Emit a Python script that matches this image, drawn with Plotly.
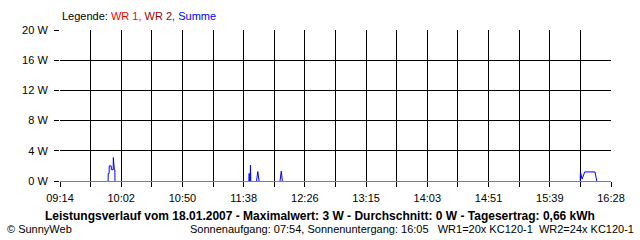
import plotly.graph_objects as go

# ---- data (minutes since midnight, watts) ----
x_start_label = "09:14"
x_end_label = "16:28"
x_tick_labels = ["09:14", "10:02", "10:50", "11:38", "12:26", "13:15",
                 "14:03", "14:51", "15:39", "16:28"]
y_ticks = [0, 4, 8, 12, 16, 20]

summe_t = [591.9, 592.0, 592.7, 592.8, 594.3, 594.5, 595.9, 596.0, 596.8, 597.2, 597.3, None,
           702.8, 703.0, 703.3, None,
           703.8, 704.0, 704.3, None,
           708.8, 709.8, 710.8, None,
           727.3, 728.3, 729.1, None,
           963.8, 963.9, 965.2, 967.3, 975.4, 976.8]
summe_w = [0, 1.0, 1.0, 2.0, 2.0, 1.5, 1.5, 3.1, 1.5, 1.5, 0, None,
           0, 1.0, 0, None,
           0, 2.1, 0, None,
           0, 1.25, 0, None,
           0, 1.3, 0, None,
           0, 1.2, 0.25, 1.2, 1.2, 0]


def to_min(s):
    h, m = s.split(":")
    return int(h) * 60 + int(m)


x0 = to_min(x_start_label)
x1 = to_min(x_end_label)
n_int = 2 * (len(x_tick_labels) - 1)
tickvals = [x0 + i * (x1 - x0) / n_int for i in range(n_int + 1)]
ticktext = []
for i in range(n_int + 1):
    ticktext.append(x_tick_labels[i // 2] if i % 2 == 0 else "")

FONT = "Liberation Sans, Arial, sans-serif"

fig = go.Figure()
fig.add_trace(go.Scatter(x=summe_t, y=summe_w, mode="lines",
                         line=dict(color="#0000FF", width=1),
                         connectgaps=False, showlegend=False, hoverinfo="skip"))

fig.update_layout(
    width=640, height=240,
    margin=dict(l=60, r=29, t=30, b=59),
    paper_bgcolor="white", plot_bgcolor="white",
    font=dict(family=FONT, size=11, color="black"),
    showlegend=False,
)
fig.update_xaxes(
    range=[x0, x1], tickmode="array", tickvals=tickvals, ticktext=ticktext,
    showgrid=True, gridcolor="black", gridwidth=1,
    ticks="outside", ticklen=5, tickcolor="black", tickwidth=1,
    showline=False, zeroline=False, fixedrange=True,
    ticklabelstandoff=2,
    tickfont=dict(family=FONT, size=11, color="black"),
)
fig.update_yaxes(
    range=[0, 20], tickmode="array", tickvals=y_ticks,
    ticktext=[f"{v} W" for v in y_ticks],
    showgrid=True, gridcolor="black", gridwidth=1,
    ticks="outside", ticklen=5, tickcolor="black", tickwidth=1,
    showline=False, zeroline=True, zerolinecolor="#808080", zerolinewidth=1,
    fixedrange=True, ticklabelstandoff=4,
    tickfont=dict(family=FONT, size=11, color="black"),
)

pw, ph = 640 - 60 - 29, 240 - 30 - 59


def px(xp):
    return (xp - 60) / pw


def py(yp):
    return (240 - 59 - yp) / ph


fig.add_annotation(
    x=px(60), y=py(16), xref="paper", yref="paper", showarrow=False,
    text=("Legende: <span style='color:#FF0000'>WR 1,</span> "
          "<span style='color:#A00000'>WR 2,</span> "
          "<span style='color:#0000FF'>Summe</span>"),
    font=dict(family=FONT, size=11, color="black"),
    xanchor="left", yanchor="middle",
)
fig.add_annotation(
    text="<b>Leistungsverlauf vom 18.01.2007 - Maximalwert: 3 W - Durchschnitt: 0 W - Tagesertrag: 0,66 kWh</b>",
    x=px(320), y=py(216), xref="paper", yref="paper", showarrow=False,
    font=dict(family=FONT, size=12, color="black"),
    xanchor="center", yanchor="middle",
)
fig.add_annotation(
    text="© SunnyWeb", x=px(5), y=py(229), xref="paper", yref="paper", showarrow=False,
    font=dict(family=FONT, size=11, color="black"), xanchor="left", yanchor="middle",
)
fig.add_annotation(
    text="Sonnenaufgang: 07:54, Sonnenuntergang: 16:05   WR1=20x KC120-1  WR2=24x KC120-1",
    x=px(636), y=py(229), xref="paper", yref="paper", showarrow=False,
    font=dict(family=FONT, size=11, color="black"), xanchor="right", yanchor="middle",
)

fig.write_html("out.html")
